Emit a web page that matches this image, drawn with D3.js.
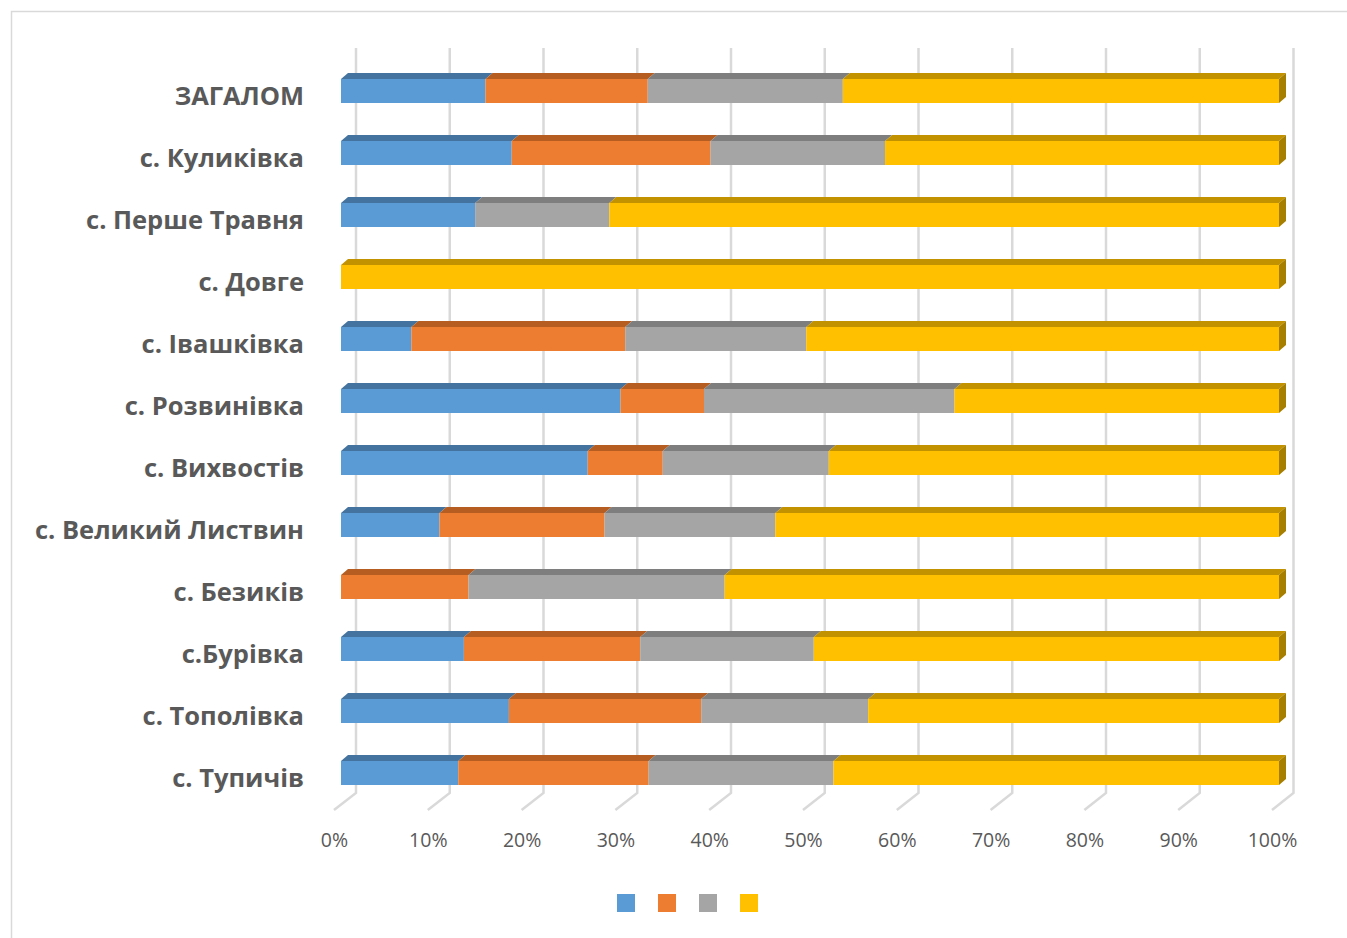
<!DOCTYPE html>
<html>
<head>
<meta charset="utf-8">
<script src="https://cdn.jsdelivr.net/npm/d3@7"></script>
<style>
  body { margin: 0; background: #fff; }
  svg { display: block; }
</style>
</head>
<body>
<svg class="chart_svg"><g class="g_1"></g></svg>
<script>
// chart data (percent per village)
const categories = ["ЗАГАЛОМ", "с. Куликівка", "с. Перше Травня", "с. Довге", "с. Івашківка", "с. Розвинівка",
  "с. Вихвостів", "с. Великий Листвин", "с. Безиків", "с.Бурівка", "с. Тополівка", "с. Тупичів"];
const series1 = [15.4, 18.2, 14.3, 0, 7.5, 29.8, 26.3, 10.5, 0, 13.1, 17.9, 12.5];
const series2 = [17.3, 21.2, 0, 0, 22.8, 8.9, 8.0, 17.6, 13.6, 18.8, 20.5, 20.3];
const series3 = [20.8, 18.6, 14.3, 0, 19.3, 26.7, 17.7, 18.2, 27.3, 18.5, 17.8, 19.7];
const series4 = [46.5, 42.0, 71.4, 100, 50.4, 34.6, 48.0, 53.7, 59.1, 49.6, 43.8, 47.5];
const tickValues = [0, 0.1, 0.2, 0.3, 0.4, 0.5, 0.6, 0.7, 0.8, 0.9, 1];

const keys = ["s1", "s2", "s3", "s4"];
const colors = {s1: "#5B9BD5", s2: "#ED7D31", s3: "#A5A5A5", s4: "#FFC000"};
const topColors = {s1: "#44739F", s2: "#B65E22", s3: "#7E7E7E", s4: "#C29200"};
const sideColors = {s1: "#3A6690", s2: "#A0521C", s3: "#6E6E6E", s4: "#A67E00"};

let rows = categories.map((c, i) => ({cat: c, s1: series1[i], s2: series2[i], s3: series3[i], s4: series4[i]}));

let W = 1347, H = 938;
let svg = d3.select(".chart_svg").attr("width", W).attr("height", H);
let g = svg.select(".g_1");

// chart border
g.append("rect").attr("x", 11.5).attr("y", 11.5).attr("width", 1345).attr("height", 945)
  .attr("fill", "none").attr("stroke", "#D9D9D9").attr("stroke-width", 1.5);

// scales: bar front face, back wall, floor front edge
const x = d3.scaleLinear().domain([0, 1]).range([341, 1279]);
const xWall = d3.scaleLinear().domain([0, 1]).range([356, 1293.5]);
const xFloor = d3.scaleLinear().domain([0, 1]).range([334, 1272]);
const y = d3.scaleBand().domain(categories).range([60, 804]).paddingInner(0.613).paddingOuter(0.3065);
const dx = 7, dy = 6;         // bar depth
const wallTop = 48, wallBottom = 793, floorY = 810;

// gridlines on wall + floor
g.selectAll(".grid").data(tickValues).join("path").attr("class", "grid")
  .attr("d", d => `M${xWall(d)},${wallTop}V${wallBottom}L${xFloor(d)},${floorY}`)
  .attr("fill", "none").attr("stroke", "#D9D9D9").attr("stroke-width", 2.5);

// x axis labels
let xAxis = g.append("g").attr("class", "x_axis_g").attr("transform", `translate(0, ${floorY})`)
  .call(d3.axisBottom(xFloor).tickValues(tickValues).tickFormat(d3.format(".0%")).tickSize(0).tickPadding(23));
xAxis.select(".domain").remove();
xAxis.selectAll("text").attr("fill", "#595959").style("font-family", "'Open Sans', sans-serif").style("font-size", "19.5px");

// y axis labels
let yAxis = g.append("g").attr("class", "y_axis_g").attr("transform", `translate(304, 6)`)
  .call(d3.axisLeft(y).tickSize(0).tickPadding(0));
yAxis.select(".domain").remove();
yAxis.selectAll("text").attr("fill", "#595959").style("font-family", "'Open Sans', sans-serif")
  .style("font-size", "25.5px").style("font-weight", "bold");

// stacked bars
let stacked = d3.stack().keys(keys).offset(d3.stackOffsetExpand)(rows);

let layers = g.selectAll(".layer").data(stacked).join("g").attr("class", "layer");

layers.each(function (s) {
  let key = s.key;
  let segs = s.filter(d => d[1] - d[0] > 0);
  let lg = d3.select(this);
  // front face
  lg.selectAll(".front").data(segs).join("rect").attr("class", "front")
    .attr("x", d => x(d[0])).attr("y", d => y(d.data.cat))
    .attr("width", d => x(d[1]) - x(d[0])).attr("height", y.bandwidth())
    .attr("fill", colors[key]);
  // top face
  lg.selectAll(".top").data(segs).join("path").attr("class", "top")
    .attr("d", d => {
      let y0 = y(d.data.cat);
      return `M${x(d[0])},${y0}L${x(d[1])},${y0}L${x(d[1]) + dx},${y0 - dy}L${x(d[0]) + dx},${y0 - dy}Z`;
    })
    .attr("fill", topColors[key]);
  // right side face for the bar end
  lg.selectAll(".side").data(segs.filter(d => d[1] > 0.9999)).join("path").attr("class", "side")
    .attr("d", d => {
      let y0 = y(d.data.cat), x1 = x(d[1]);
      return `M${x1},${y0}L${x1 + dx},${y0 - dy}L${x1 + dx},${y0 + y.bandwidth() - dy}L${x1},${y0 + y.bandwidth()}Z`;
    })
    .attr("fill", sideColors[key]);
});

// legend (series have no names)
const legendX = d3.scaleBand().domain(keys).range([617, 781]);
g.selectAll(".legend").data(keys).join("rect").attr("class", "legend")
  .attr("x", d => legendX(d)).attr("y", 894).attr("width", 18).attr("height", 18)
  .attr("fill", d => colors[d]);
</script>
</body>
</html>
